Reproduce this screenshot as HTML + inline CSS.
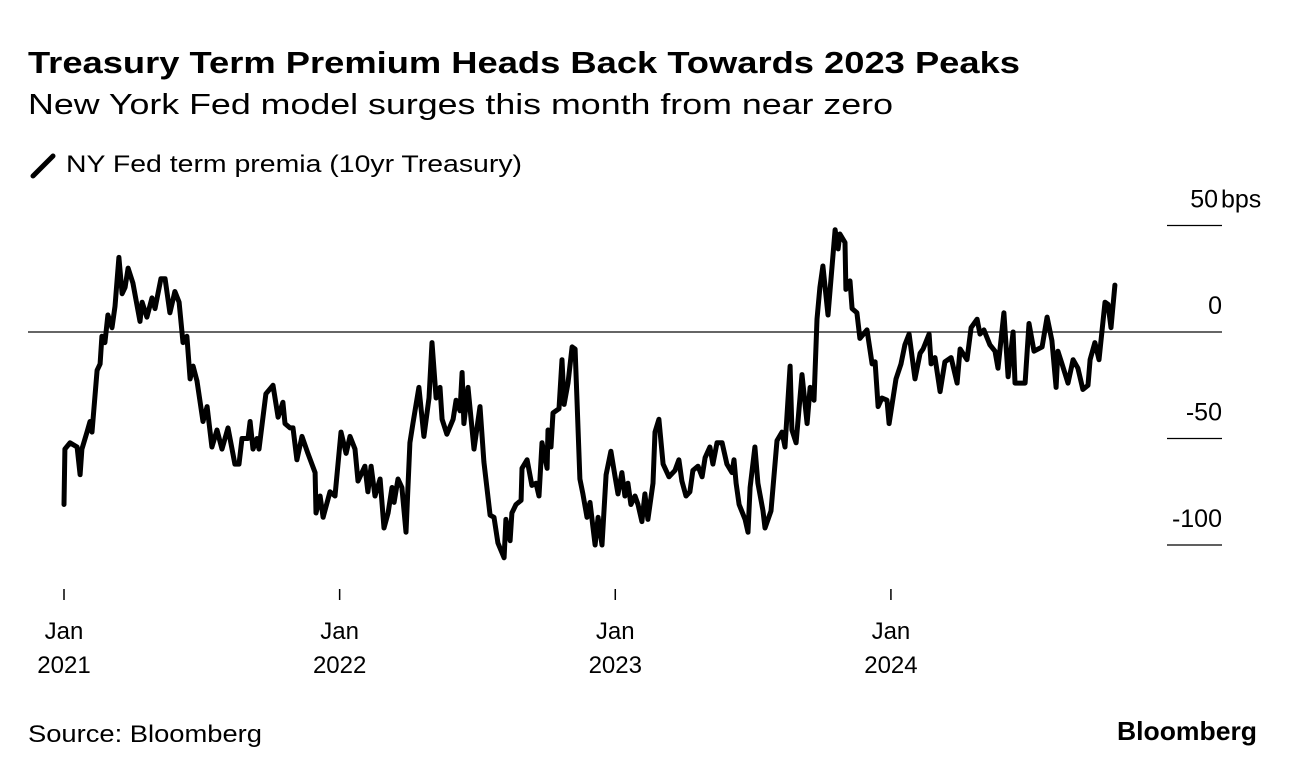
<!DOCTYPE html>
<html><head><meta charset="utf-8"><style>
body{margin:0;background:#fff;width:1296px;height:774px;overflow:hidden;font-family:"Liberation Sans",sans-serif;color:#000}
</style></head><body>
<svg width="1296" height="774" style="position:absolute;left:0;top:0">
<text x="28" y="73" font-size="31" font-weight="bold" textLength="992" lengthAdjust="spacingAndGlyphs">Treasury Term Premium Heads Back Towards 2023 Peaks</text>
<text x="28" y="114" font-size="29" textLength="865" lengthAdjust="spacingAndGlyphs">New York Fed model surges this month from near zero</text>
<g>
<line x1="33" y1="176" x2="53" y2="156" stroke="#000" stroke-width="5" stroke-linecap="round"/>
<text x="66" y="172" font-size="24" textLength="456" lengthAdjust="spacingAndGlyphs">NY Fed term premia (10yr Treasury)</text>
</g>
<g id="axes"></g>
<g id="plot"></g>
<text x="28" y="742" font-size="24" textLength="234" lengthAdjust="spacingAndGlyphs">Source: Bloomberg</text>
<text x="1117" y="740" font-size="26" font-weight="bold" textLength="140" lengthAdjust="spacingAndGlyphs">Bloomberg</text>
</svg>
<script>
// months since Jan 2021
const months=[0,0.04,0.26,0.57,0.70,0.78,1.0,1.13,1.22,1.44,1.57,1.65,1.78,1.91,2.09,2.22,2.39,2.53,2.66,2.79,3.0,3.31,3.40,3.61,3.83,3.96,4.22,4.40,4.61,4.83,5.01,5.18,5.35,5.49,5.62,5.79,6.05,6.23,6.44,6.66,6.88,7.14,7.44,7.62,7.75,8.01,8.10,8.23,8.40,8.49,8.79,9.10,9.32,9.53,9.62,9.84,9.97,10.14,10.36,10.62,10.93,10.97,11.15,11.28,11.58,11.80,12.06,12.28,12.45,12.67,12.80,13.10,13.23,13.37,13.54,13.76,13.93,14.11,14.28,14.37,14.54,14.71,14.89,15.06,15.19,15.45,15.67,15.89,16.02,16.20,16.37,16.46,16.67,16.94,17.07,17.24,17.33,17.41,17.59,17.85,18.11,18.28,18.55,18.72,18.89,19.16,19.24,19.42,19.50,19.68,19.90,19.94,20.16,20.37,20.55,20.68,20.81,21.03,21.07,21.20,21.29,21.55,21.68,21.77,21.94,22.12,22.25,22.46,22.59,22.77,22.90,23.12,23.25,23.42,23.60,23.81,23.99,24.12,24.29,24.42,24.55,24.68,24.86,24.99,25.16,25.29,25.42,25.64,25.73,25.90,26.08,26.34,26.60,26.77,26.90,27.08,27.25,27.38,27.60,27.78,27.91,28.12,28.25,28.43,28.65,28.86,29.08,29.17,29.26,29.39,29.65,29.78,29.87,30.08,30.21,30.43,30.52,30.78,31.04,31.26,31.39,31.61,31.69,31.87,32.13,32.35,32.48,32.65,32.78,32.91,33.04,33.26,33.57,33.70,33.78,34.0,34.04,34.22,34.31,34.52,34.65,34.96,35.18,35.31,35.44,35.61,35.83,35.92,36.22,36.44,36.61,36.79,37.05,37.27,37.40,37.66,37.75,37.92,38.14,38.35,38.62,38.88,39.01,39.31,39.49,39.75,39.88,40.05,40.31,40.53,40.66,40.92,41.10,41.32,41.40,41.71,41.84,42.01,42.23,42.58,42.80,43.01,43.19,43.27,43.45,43.71,43.93,44.14,44.36,44.58,44.67,44.88,45.06,45.32,45.45,45.58,45.75];
const premia=[-81,-55,-52,-54,-67,-55,-47,-42,-47,-18,-15,-2,-5,8,2,12,35,18,21,30,23,5,14,7,16,11,25,25,9,19,14,-5,-2,-22,-16,-23,-42,-35,-54,-46,-55,-45,-62,-62,-50,-50,-42,-55,-50,-55,-29,-25,-40,-33,-43,-45,-45,-60,-49,-57,-66,-85,-77,-87,-75,-77,-47,-57,-49,-55,-70,-63,-75,-63,-77,-69,-92,-85,-73,-80,-69,-73,-94,-52,-43,-26,-49,-31,-5,-31,-26,-41,-48,-41,-32,-37,-19,-43,-26,-55,-35,-61,-86,-87,-99,-106,-88,-98,-85,-81,-79,-64,-60,-72,-71,-77,-52,-64,-46,-54,-38,-36,-13,-34,-24,-7,-8,-69,-76,-87,-80,-100,-87,-100,-67,-56,-68,-76,-66,-77,-71,-81,-77,-81,-89,-76,-88,-71,-47,-41,-62,-68,-65,-60,-70,-77,-75,-65,-63,-68,-59,-54,-62,-52,-52,-62,-66,-60,-71,-81,-88,-94,-73,-54,-71,-84,-92,-84,-51,-47,-54,-16,-46,-52,-20,-43,-26,-32,6,21,31,8,48,39,46,42,20,24,11,9,-3,1,-15,-14,-35,-31,-32,-43,-22,-15,-6,-1,-22,-10,-8,-1,-15,-12,-28,-14,-12,-24,-8,-13,2,6,-1,1,-6,-9,-17,9,-21,0,-24,-24,-24,4,-9,-7,7,-4,-26,-9,-15,-24,-13,-17,-27,-25,-13,-5,-13,14,13,2,22];
const yTicks=[50,0,-50,-100];
const yTickLabels=["50","0","-50","-100"];
const xTickMonths=[0,12,24,36];
const xTickYears=["2021","2022","2023","2024"];

const NS="http://www.w3.org/2000/svg";
const xs=m=>64+m*22.97;
const ys=v=>332-v*2.13;
function mk(tag,attrs,parent){const e=document.createElementNS(NS,tag);for(const k in attrs)e.setAttribute(k,attrs[k]);parent.appendChild(e);return e;}
const axes=document.getElementById('axes'),plot=document.getElementById('plot');
yTicks.forEach((v,i)=>{
  const y=ys(v);
  const ln=mk('line',{x1:v===0?28:1167,x2:1222,y1:y,y2:y,stroke:v===0?'#333':'#000','stroke-width':v===0?1.5:1.3},axes);
  
  
  const t=mk('text',{x:v===50?1218:1222,y:y-18,'font-size':25,'text-anchor':'end'},axes);
  t.textContent=yTickLabels[i];
  
  
  if(v===50){const u=mk('text',{x:1221,y:y-18,'font-size':25},axes);u.textContent='bps';
  
  }
});
xTickMonths.forEach((m,i)=>{
  const x=xs(m);
  const tk=mk('line',{x1:x,x2:x,y1:589,y2:600,stroke:'#000','stroke-width':1.5},axes);
  
  
  const a=mk('text',{x:x,y:639,'font-size':24,'text-anchor':'middle'},axes);a.textContent='Jan';
  
  
  const b=mk('text',{x:x,y:673,'font-size':24,'text-anchor':'middle'},axes);b.textContent=xTickYears[i];
  
  
});
const d=months.map((m,i)=>(i?'L':'M')+xs(m).toFixed(1)+' '+ys(premia[i]).toFixed(1)).join(' ');
const p=mk('path',{d:d,fill:'none',stroke:'#000','stroke-width':5,'stroke-linejoin':'round','stroke-linecap':'round'},plot);


</script>
</body></html>
